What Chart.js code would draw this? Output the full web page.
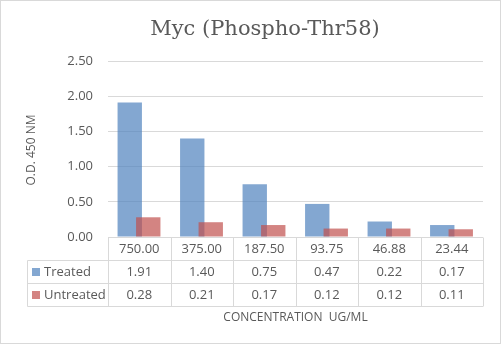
<!DOCTYPE html>
<html>
<head>
<meta charset="utf-8">
<script src="https://cdn.jsdelivr.net/npm/chart.js@4/dist/chart.umd.min.js"></script>
<style>
  html, body { margin: 0; padding: 0; background: #fff; }
  #wrap { width: 503px; height: 346px; }
</style>
</head>
<body>
<div id="wrap"><canvas id="myChart" width="503" height="346"></canvas></div>
<script>
const concentrations = ['750.00', '375.00', '187.50', '93.75', '46.88', '23.44'];
const treated = [1.91, 1.40, 0.75, 0.47, 0.22, 0.17];
const untreated = [0.28, 0.21, 0.17, 0.12, 0.12, 0.11];
const yTicks = [0, 0.5, 1, 1.5, 2, 2.5];

const blue = 'rgba(79,129,189,0.7)';
const red = 'rgba(192,80,77,0.7)';
const textGray = '#595959';
const lineGray = '#d9d9d9';
const font = '"Open Sans", "Noto Sans", sans-serif';

// shift the overlapping bars a little apart (Excel style overlap)
const barShift = {
  id: 'barShift',
  afterDatasetsUpdate(chart) {
    const shifts = [-9.5, 9];
    chart.data.datasets.forEach(function (ds, i) {
      chart.getDatasetMeta(i).data.forEach(function (bar) {
        bar.x += shifts[i];
      });
    });
  }
};

// title, axis titles, data table and outer border
const extras = {
  id: 'extras',
  afterDraw(chart) {
    const ctx = chart.ctx;
    const area = chart.chartArea;
    const x = chart.scales.x;
    const n = concentrations.length;
    const step = (area.right - area.left) / n;
    const rowH = 23;
    const legendLeft = 27;

    ctx.save();
    // outer border
    ctx.strokeStyle = lineGray;
    ctx.lineWidth = 1;
    ctx.strokeRect(0.5, 0.5, 500, 343);

    // title
    ctx.fillStyle = textGray;
    ctx.font = '21px "DejaVu Serif", serif';
    ctx.textAlign = 'center';
    ctx.textBaseline = 'middle';
    ctx.fillText('Myc (Phospho-Thr58)', 265, 30);

    // y title
    ctx.save();
    ctx.translate(32, 150);
    ctx.rotate(-Math.PI / 2);
    ctx.font = '12px ' + font;
    ctx.fillText('O.D. 450 NM', 0, 0);
    ctx.restore();

    // table lines
    ctx.strokeStyle = lineGray;
    const top = Math.round(area.bottom) + 0.5;
    ctx.beginPath();
    ctx.moveTo(area.left, top);
    ctx.lineTo(area.right, top);
    for (let r = 1; r <= 3; r++) {
      ctx.moveTo(legendLeft + 0.5, top + r * rowH);
      ctx.lineTo(area.right, top + r * rowH);
    }
    ctx.moveTo(legendLeft + 0.5, top + rowH);
    ctx.lineTo(legendLeft + 0.5, top + 3 * rowH);
    for (let i = 0; i <= n; i++) {
      const cx = Math.round(area.left + i * step) + 0.5;
      ctx.moveTo(cx, top);
      ctx.lineTo(cx, top + 3 * rowH);
    }
    ctx.stroke();

    // table text
    ctx.fillStyle = textGray;
    ctx.font = '13px ' + font;
    ctx.textAlign = 'center';
    concentrations.forEach(function (label, i) {
      const cx = x.getPixelForValue(i);
      ctx.fillText(label, cx, top + rowH / 2);
      ctx.fillText(treated[i].toFixed(2), cx, top + rowH * 1.5);
      ctx.fillText(untreated[i].toFixed(2), cx, top + rowH * 2.5);
    });

    // legend keys
    const series = [['Treated', blue], ['Untreated', red]];
    ctx.textAlign = 'left';
    series.forEach(function (s, r) {
      const cy = top + rowH * (1.5 + r);
      ctx.fillStyle = s[1];
      ctx.fillRect(32, cy - 4, 8, 8);
      ctx.fillStyle = textGray;
      ctx.fillText(s[0], 44, cy);
    });

    // x title
    ctx.textAlign = 'center';
    ctx.font = '12px ' + font;
    ctx.fillText('CONCENTRATION  UG/ML', (area.left + area.right) / 2, 318);
    ctx.restore();
  }
};

const context = document.getElementById('myChart');
const myChart = new Chart(context, {
  type: 'bar',
  data: {
    labels: concentrations,
    datasets: [
      { label: 'Treated', data: treated, backgroundColor: blue, order: 2 },
      { label: 'Untreated', data: untreated, backgroundColor: red, order: 1 }
    ]
  },
  options: {
    responsive: false,
    animation: false,
    devicePixelRatio: 1,
    datasets: {
      bar: { grouped: false, categoryPercentage: 1, barPercentage: 0.39 }
    },
    layout: { padding: { top: 61, right: 20, bottom: 109, left: 0 } },
    plugins: {
      legend: { display: false },
      tooltip: { enabled: false },
      title: { display: false }
    },
    scales: {
      x: { display: false },
      y: {
        min: 0,
        max: 2.5,
        afterFit(scale) { scale.width = 108; },
        afterBuildTicks(scale) { scale.ticks = yTicks.map(function (v) { return { value: v }; }); },
        border: { display: false },
        grid: { color: lineGray, drawTicks: false },
        ticks: {
          padding: 15,
          color: textGray,
          font: { family: font, size: 13 },
          callback: function (v) { return Number(v).toFixed(2); }
        }
      }
    }
  },
  plugins: [barShift, extras]
});
</script>
</body>
</html>
